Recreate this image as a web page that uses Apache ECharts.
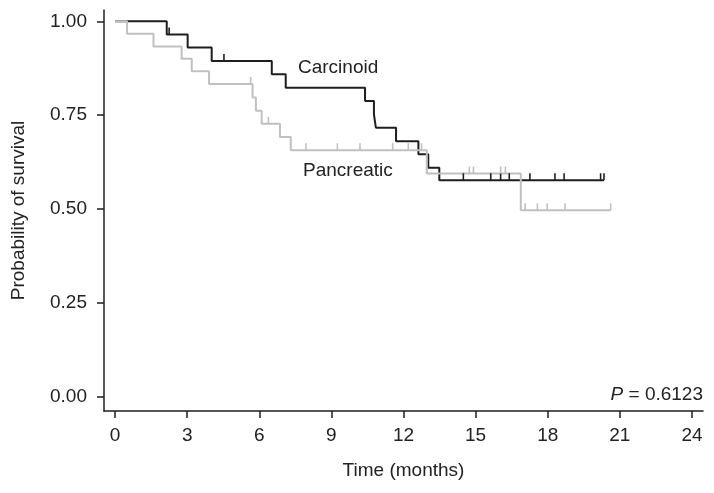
<!DOCTYPE html>
<html>
<head>
<meta charset="utf-8">
<script src="https://cdn.jsdelivr.net/npm/echarts@6/dist/echarts.min.js"></script>
<style>html,body{margin:0;padding:0;background:#fff}#c{width:714px;height:493px}</style>
</head>
<body>
<div id="c"></div>
<script>
// Kaplan-Meier steps: [time (months), survival]
var carcinoidSteps = [[0,1],[2.15,0.965],[3.02,0.930],[4.02,0.894],[6.52,0.859],[7.10,0.823],[10.40,0.788],[10.77,0.752],[10.85,0.717],[11.69,0.681],[12.62,0.646],[13.03,0.610],[13.49,0.577],[20.34,0.577]];
var pancreaticSteps = [[0,1],[0.5,0.967],[1.60,0.933],[2.77,0.900],[3.19,0.867],[3.91,0.833],[5.72,0.797],[5.86,0.762],[6.10,0.727],[6.86,0.692],[7.31,0.657],[12.97,0.595],[16.88,0.497],[20.62,0.497]];
// censor marks
var carcinoidCensor = [[2.25,0.965],[4.53,0.894],[14.49,0.577],[15.63,0.577],[16.04,0.577],[16.40,0.577],[17.26,0.577],[18.30,0.577],[18.68,0.577],[20.20,0.577],[20.34,0.577]];
var pancreaticCensor = [[5.64,0.833],[6.38,0.727],[7.94,0.657],[9.25,0.657],[10.19,0.657],[11.55,0.657],[12.20,0.657],[12.75,0.657],[14.74,0.595],[14.91,0.595],[16.04,0.595],[16.24,0.595],[17.06,0.497],[17.57,0.497],[17.98,0.497],[18.72,0.497],[20.62,0.497]];
var xTicks = [0,3,6,9,12,15,18,21,24];
var yTicks = [0,0.25,0.5,0.75,1];

var FONT = 'Liberation Sans, Arial, sans-serif';
var BLACK = '#1e1e1e', GRAY = '#c0c0c0';

function censorSeries(data, color, z) {
  return {
    type: 'custom', data: data, z: z, silent: true,
    renderItem: function (params, api) {
      var p = api.coord([api.value(0), api.value(1)]);
      return { type: 'line', shape: { x1: p[0], y1: p[1], x2: p[0], y2: p[1] - 7 },
               style: { stroke: color, lineWidth: 1.6 } };
    }
  };
}

var chart = echarts.init(document.getElementById('c'), null, { renderer: 'canvas' });
chart.setOption({
  animation: false,
  grid: { left: 104, right: 11, top: 10, bottom: 82, containLabel: false, outerBoundsMode: 'none' },
  xAxis: {
    type: 'value', min: -0.46, max: 24.46,
    name: 'Time (months)', nameLocation: 'middle', nameGap: 50,
    nameTextStyle: { fontFamily: FONT, fontSize: 19, color: '#222' },
    axisLine: { show: true, onZero: false, lineStyle: { color: BLACK, width: 1.5 } },
    axisTick: { show: true, length: 7, customValues: xTicks, lineStyle: { color: BLACK, width: 1.5 } },
    axisLabel: { customValues: xTicks, margin: 15, fontFamily: FONT, fontSize: 19, color: '#222' },
    splitLine: { show: false }
  },
  yAxis: {
    type: 'value', min: -0.037, max: 1.03,
    name: 'Probability of survival', nameLocation: 'middle', nameGap: 76,
    nameTextStyle: { fontFamily: FONT, fontSize: 19, color: '#222' },
    axisLine: { show: true, onZero: false, lineStyle: { color: BLACK, width: 1.5 } },
    axisTick: { show: true, length: 7, customValues: yTicks, lineStyle: { color: BLACK, width: 1.5 } },
    axisLabel: { customValues: yTicks, margin: 17, fontFamily: FONT, fontSize: 19, color: '#222',
                 formatter: function (v) { return v.toFixed(2); } },
    splitLine: { show: false }
  },
  series: [
    { type: 'line', step: 'end', data: carcinoidSteps, showSymbol: false, z: 3,
      lineStyle: { color: BLACK, width: 2 } },
    { type: 'line', step: 'end', data: pancreaticSteps, showSymbol: false, z: 4,
      lineStyle: { color: GRAY, width: 2 } },
    censorSeries(carcinoidCensor, BLACK, 5),
    censorSeries(pancreaticCensor, GRAY, 5)
  ],
  graphic: [
    { type: 'text', left: 298, top: 58, style: { text: 'Carcinoid', font: '19px ' + FONT, fill: '#222' } },
    { type: 'text', left: 303, top: 161, style: { text: 'Pancreatic', font: '19px ' + FONT, fill: '#222' } },
    { type: 'text', right: 11, top: 385, style: {
        text: '{i|P}{n| = 0.6123}',
        rich: { i: { fontFamily: FONT, fontSize: 19, fontStyle: 'italic', fill: '#222' },
                n: { fontFamily: FONT, fontSize: 19, fill: '#222' } } } }
  ]
});
</script>
</body>
</html>
